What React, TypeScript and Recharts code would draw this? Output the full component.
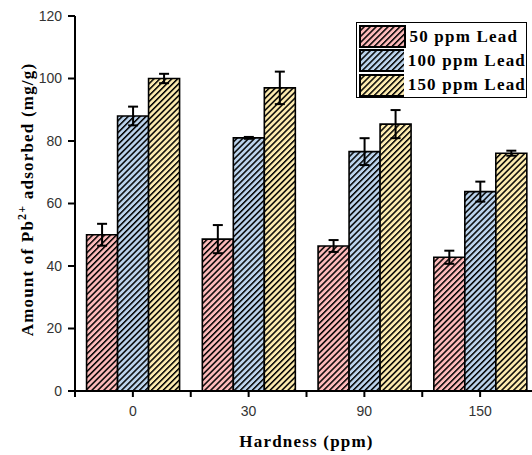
import React from 'react';
import { BarChart, Bar, XAxis, YAxis, ErrorBar, Legend } from 'recharts';

const hardness = ['0', '30', '90', '150'];
const lead50 = [50, 48.6, 46.4, 42.8];
const lead50Err = [3.5, 4.5, 1.9, 2.1];
const lead100 = [88, 81, 76.6, 63.8];
const lead100Err = [3, 0.3, 4.3, 3.2];
const lead150 = [100, 97, 85.4, 76.1];
const lead150Err = [1.5, 5.2, 4.5, 0.8];
const yTicks = [0, 20, 40, 60, 80, 100, 120];

const seriesNames = ['50 ppm Lead', '100 ppm Lead', '150 ppm Lead'];
const seriesKeys = ['l50', 'l100', 'l150'];
const seriesColors = ['#FDBABA', '#BBD3EC', '#FDEBAF'];

const data = hardness.map((h, i) => ({
  h,
  l50: lead50[i],
  e50: lead50Err[i],
  l100: lead100[i],
  e100: lead100Err[i],
  l150: lead150[i],
  e150: lead150Err[i],
}));

const SERIF = '"Liberation Serif", "Times New Roman", serif';
const SANS = '"Liberation Sans", Arial, sans-serif';
const TICK_SIZE = 6;
const TICK_MARGIN = 9;

const Hatch = ({ id, color }: { id: string; color: string }) => (
  <pattern id={id} patternUnits="userSpaceOnUse" width={4.2} height={4.2} patternTransform="rotate(45)">
    <rect x={0} y={0} width={4.2} height={4.2} fill={color} />
    <line x1={0.75} y1={0} x2={0.75} y2={4.2} stroke="#000" strokeWidth={1.5} />
  </pattern>
);

const XTick = (props: any) => {
  const { x, y, payload, index } = props;
  const half = payload && typeof payload.offset === 'number' ? payload.offset : 0;
  const axisY = y - TICK_SIZE - TICK_MARGIN;
  const last = index === hardness.length - 1;
  return (
    <g>
      <line x1={x - half} x2={x - half} y1={axisY} y2={axisY + TICK_SIZE} stroke="#000" strokeWidth={2} />
      {last && <line x1={x + half} x2={x + half} y1={axisY} y2={axisY + TICK_SIZE} stroke="#000" strokeWidth={2} />}
      <text x={x} y={y} dy="0.71em" textAnchor="middle" fill="#333" fontSize={14} fontFamily={SANS}>
        {payload.value}
      </text>
    </g>
  );
};

const XTitle = (props: any) => {
  const vb = props.viewBox || {};
  return (
    <text
      x={vb.x + vb.width / 2}
      y={vb.y + 56}
      textAnchor="middle"
      fontFamily={SERIF}
      fontWeight="bold"
      fontSize={17}
      letterSpacing={1.2}
      fill="#000"
    >
      Hardness (ppm)
    </text>
  );
};

const YTitle = (props: any) => {
  const vb = props.viewBox || {};
  const cx = 33;
  const cy = vb.y + vb.height / 2 - 4;
  return (
    <text
      x={cx}
      y={cy}
      transform={`rotate(-90, ${cx}, ${cy})`}
      textAnchor="middle"
      fontFamily={SERIF}
      fontWeight="bold"
      fontSize={17}
      letterSpacing={1.2}
      fill="#000"
    >
      <tspan>Amount of Pb</tspan>
      <tspan dy={-7} fontSize={12}>2+</tspan>
      <tspan dy={7}> adsorbed (mg/g)</tspan>
    </text>
  );
};

const LegendBox = () => (
  <div
    style={{
      boxSizing: 'border-box',
      width: 171,
      height: 76,
      border: '1.5px solid #000',
      background: '#fff',
      padding: '1.5px 0 0 1.5px',
    }}
  >
    {seriesNames.map((name, i) => (
      <div key={name} style={{ display: 'flex', alignItems: 'center', height: 24.3 }}>
        <svg width={47} height={23} style={{ display: 'block' }}>
          <defs>
            <Hatch id={`leg-${seriesKeys[i]}`} color={seriesColors[i]} />
          </defs>
          <rect x={1} y={1} width={45} height={21} fill={`url(#leg-${seriesKeys[i]})`} stroke="#000" strokeWidth={2} />
        </svg>
        <span
          style={{
            marginLeft: 4,
            fontFamily: SERIF,
            fontWeight: 'bold',
            fontSize: 17,
            letterSpacing: 1.2,
            color: '#000',
            whiteSpace: 'nowrap',
          }}
        >
          {name}
        </span>
      </div>
    ))}
  </div>
);

export default function App() {
  return (
    <div style={{ position: 'absolute', left: 0, top: 0, width: 532, height: 455, overflow: 'hidden', background: '#fff' }}>
      <BarChart
        width={541}
        height={455}
        data={data}
        margin={{ top: 16, right: 3, left: 0, bottom: 0 }}
        barGap={0}
        barCategoryGap="10%"
      >
        <defs>
          <Hatch id="pat-l50" color={seriesColors[0]} />
          <Hatch id="pat-l100" color={seriesColors[1]} />
          <Hatch id="pat-l150" color={seriesColors[2]} />
        </defs>
        <XAxis
          dataKey="h"
          height={64}
          tickSize={TICK_SIZE}
          tickMargin={TICK_MARGIN}
          tick={<XTick />}
          tickLine={{ stroke: '#000', strokeWidth: 2 }}
          axisLine={{ stroke: '#000', strokeWidth: 2 }}
          label={<XTitle />}
        />
        <XAxis
          xAxisId="top"
          dataKey="h"
          orientation="top"
          height={0}
          tick={false}
          tickLine={false}
          axisLine={{ stroke: '#000', strokeWidth: 2 }}
        />
        <YAxis
          width={75}
          domain={[0, 120]}
          ticks={yTicks}
          interval={0}
          tickSize={7}
          tickMargin={6}
          tick={{ fill: '#333', fontSize: 14, fontFamily: SANS }}
          tickLine={{ stroke: '#000', strokeWidth: 2 }}
          axisLine={{ stroke: '#000', strokeWidth: 2 }}
          label={<YTitle />}
        />
        <Legend
          layout="horizontal"
          verticalAlign="middle"
          align="center"
          content={<LegendBox />}
          wrapperStyle={{ position: 'absolute', left: 356, top: 22, width: 171, height: 76 }}
        />
        {seriesKeys.map((k, i) => (
          <Bar
            key={k}
            dataKey={k}
            name={seriesNames[i]}
            fill={`url(#pat-${k})`}
            stroke="#000"
            strokeWidth={1.6}
            isAnimationActive={false}
          >
            <ErrorBar
              dataKey={['e50', 'e100', 'e150'][i]}
              width={5}
              stroke="#000"
              strokeWidth={2}
              direction="y"
              isAnimationActive={false}
            />
          </Bar>
        ))}
      </BarChart>
    </div>
  );
}
